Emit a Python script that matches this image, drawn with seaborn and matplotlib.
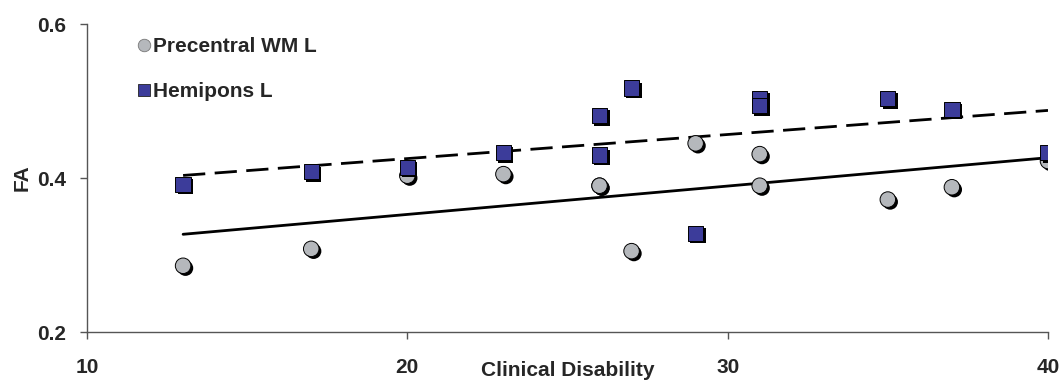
import numpy as np
import pandas as pd
import seaborn as sns
import matplotlib
matplotlib.use("Agg")
import matplotlib.pyplot as plt
import matplotlib.patheffects as pe
from matplotlib.lines import Line2D

# ---- data ----
disability = [13, 17, 20, 23, 26, 26, 27, 29, 31, 31, 35, 37, 40]
precentral_wm_l = [0.286, 0.308, 0.403, 0.405, 0.390, 0.390, 0.305, 0.445, 0.431, 0.390, 0.372, 0.388, 0.422]
hemipons_l = [0.392, 0.408, 0.414, 0.433, 0.481, 0.430, 0.517, 0.328, 0.503, 0.494, 0.503, 0.489, 0.433]
series_names = ["Precentral WM L", "Hemipons L"]
x_ticks = [10, 20, 30, 40]
y_ticks = [0.2, 0.4, 0.6]

df = pd.DataFrame({
    "Clinical Disability": disability * 2,
    "FA": precentral_wm_l + hemipons_l,
    "Region": [series_names[0]] * len(disability) + [series_names[1]] * len(disability),
})

sns.set_theme(style="white")
plt.rcParams["font.family"] = ["Liberation Sans", "DejaVu Sans"]
plt.rcParams["font.weight"] = "bold"

fig = plt.figure(figsize=(10.62, 3.80), dpi=100)
ax = fig.add_axes([87 / 1062, 1 - 332 / 380, (1048 - 87) / 1062, (332 - 24) / 380])

circle_col = "#b5b8bc"
square_col = "#3c3c9a"

# regression lines
sns.regplot(data=df[df.Region == series_names[0]], x="Clinical Disability", y="FA",
            scatter=False, ci=None, ax=ax, color="black",
            line_kws=dict(lw=2.0, linestyle="-"))
sns.regplot(data=df[df.Region == series_names[1]], x="Clinical Disability", y="FA",
            scatter=False, ci=None, ax=ax, color="black",
            line_kws=dict(lw=2.0, linestyle=(0, (8, 3.4))))

# scatter points
sns.scatterplot(data=df[df.Region == series_names[0]], x="Clinical Disability", y="FA",
                marker="o", s=125, color=circle_col, edgecolor="black", linewidth=0.7,
                ax=ax, legend=False, zorder=3)
sns.scatterplot(data=df[df.Region == series_names[1]], x="Clinical Disability", y="FA",
                marker="s", s=120, color=square_col, edgecolor="black", linewidth=0.7,
                ax=ax, legend=False, zorder=4)
for coll in ax.collections:
    coll.set_path_effects([pe.SimplePatchShadow(offset=(1.7, -1.7), shadow_rgbFace="black", alpha=1.0),
                           pe.Normal()])

ax.set_xlim(10, 40)
ax.set_ylim(0.2, 0.6)
ax.set_xticks(x_ticks)
ax.set_yticks(y_ticks)
ax.set_xticklabels([str(t) for t in x_ticks])
ax.set_yticklabels([f"{t:.1f}" for t in y_ticks])

for side in ["top", "right"]:
    ax.spines[side].set_visible(False)
for side in ["left", "bottom"]:
    ax.spines[side].set_color("#555555")
    ax.spines[side].set_linewidth(1.0)

ax.tick_params(axis="x", direction="out", length=5, width=1, color="#555555",
               pad=14, labelsize=15)
ax.tick_params(axis="y", direction="out", length=5, width=1, color="#555555",
               pad=10, labelsize=15)
ax.tick_params(left=True, bottom=True)
for lab in ax.get_xticklabels() + ax.get_yticklabels():
    lab.set_fontweight("bold")

ax.set_xlabel("Clinical Disability", fontsize=15, fontweight="bold")
ax.set_ylabel("FA", fontsize=15, fontweight="bold")
ax.xaxis.set_label_coords(0.5, -0.095)
ax.yaxis.set_label_coords(-0.058, 0.5)

handles = [
    Line2D([], [], marker="o", linestyle="none", markersize=9, markerfacecolor=circle_col,
           markeredgecolor="#777777", markeredgewidth=0.6),
    Line2D([], [], marker="s", linestyle="none", markersize=9, markerfacecolor=square_col,
           markeredgecolor="#222222", markeredgewidth=0.6),
]
leg = ax.legend(handles, series_names, loc="upper left", bbox_to_anchor=(0.041, 0.985),
                frameon=False, fontsize=15, handletextpad=0.0, labelspacing=1.25,
                handlelength=0.9, borderaxespad=0)
for t in leg.get_texts():
    t.set_fontweight("bold")

fig.savefig("out.png", dpi=100)
